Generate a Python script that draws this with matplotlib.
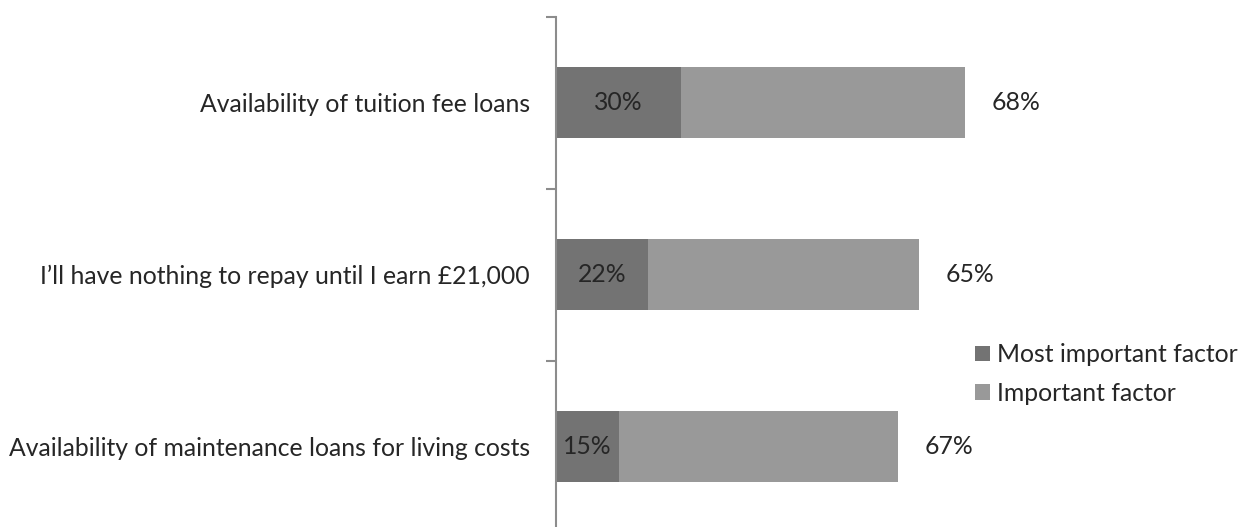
import matplotlib
matplotlib.use("Agg")
import matplotlib.pyplot as plt
from matplotlib.patches import Patch

categories = ["Availability of tuition fee loans",
              "I\u2019ll have nothing to repay until I earn \u00a321,000",
              "Availability of maintenance loans for living costs"]
most_important = [30, 22, 15]
important = [68, 65, 67]
series_names = ["Most important factor", "Important factor"]

DARK = "#737373"
LIGHT = "#999999"
TEXT = "#262626"
AXC = "#8c8c8c"

plt.rcParams['font.family'] = ['Lato', 'DejaVu Sans']

W, H = 1242, 527
fig = plt.figure(figsize=(W / 100, H / 100), dpi=100)
x0 = 556
pxu = 4.17
ax = fig.add_axes([x0 / W, (H - 532.5) / H, 100 * pxu / W, (532.5 - 16.5) / H])

ypos = list(range(len(categories)))
ax.barh(ypos, most_important, height=0.41, color=DARK, edgecolor='none')
ax.barh(ypos, important, left=most_important, height=0.41, color=LIGHT, edgecolor='none')

fs = 17.8
for y, m, i in zip(ypos, most_important, important):
    ax.text(m / 2, y, f"{m}%", ha='center', va='center', fontsize=fs, color=TEXT)
    ax.annotate(f"{i}%", xy=(m + i, y), xytext=(19.5, 0), textcoords='offset points',
                ha='left', va='center', fontsize=fs, color=TEXT, annotation_clip=False)

ax.set_xlim(0, 100)
ax.set_ylim(len(categories) - 0.5, -0.5)
for s in ['top', 'right', 'bottom']:
    ax.spines[s].set_visible(False)
ax.spines['left'].set_color(AXC)
ax.spines['left'].set_linewidth(1.5)
ax.set_xticks([])
ax.set_yticks([-0.5, 0.5, 1.5, 2.5])
ax.set_yticklabels([])
ax.tick_params(axis='y', which='major', length=7.2, width=1.5, color=AXC)
ax.set_yticks(ypos, minor=True)
ax.set_yticklabels(categories, minor=True, fontsize=fs, color=TEXT)
ax.tick_params(axis='y', which='minor', length=0, pad=18.7)

handles = [Patch(facecolor=DARK, edgecolor='none'), Patch(facecolor=LIGHT, edgecolor='none')]
leg = fig.legend(handles, series_names, loc='center left', bbox_to_anchor=(975 / W, 1 - 374 / H),
                 frameon=False, fontsize=fs, handlelength=0.6, handleheight=0.6,
                 handletextpad=0.3, labelspacing=0.62, labelcolor=TEXT, borderaxespad=0, borderpad=0)

fig.savefig("out.png", dpi=100)
